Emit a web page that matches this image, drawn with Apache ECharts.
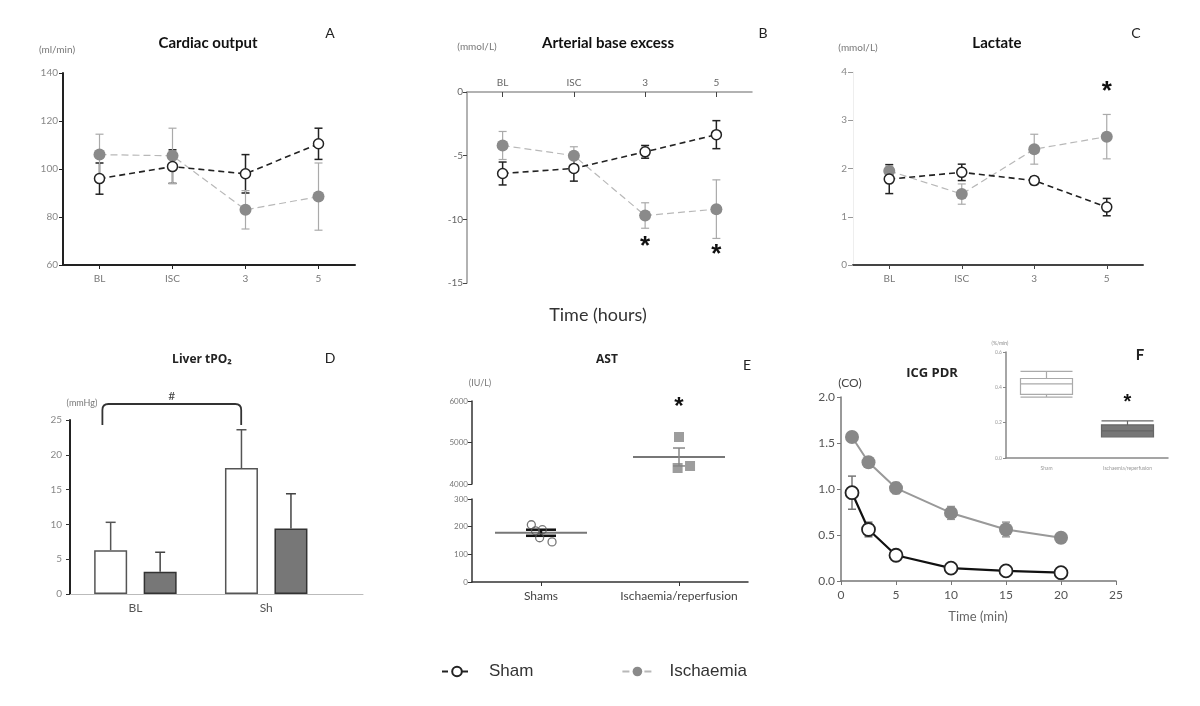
<!DOCTYPE html>
<html><head><meta charset="utf-8">
<script src="https://cdn.jsdelivr.net/npm/echarts@6/dist/echarts.min.js"></script>
<style>html,body{margin:0;padding:0;background:#fff}#c{width:1200px;height:706px}</style>
</head><body><div id="c"></div>
<script>
// ---------- DATA ----------
const timeCats = ['BL', 'ISC', '3', '5'];
const coSham = [96, 101, 98, 110.5];
const coShamErr = [6.5, 7, 8, 6.5];
const coIsch = [106, 105.5, 83, 88.5];
const coIschErr = [8.5, 11.5, 8, 14];
const beSham = [-6.4, -6.0, -4.7, -3.35];
const beShamErr = [0.9, 1.0, 0.5, 1.1];
const beIsch = [-4.2, -5.0, -9.7, -9.2];
const beIschErr = [1.1, 0.7, 1.0, 2.3];
const lacSham = [1.78, 1.92, 1.75, 1.2];
const lacShamErr = [0.3, 0.17, 0.08, 0.18];
const lacIsch = [1.95, 1.47, 2.4, 2.66];
const lacIschErr = [0.08, 0.21, 0.31, 0.46];
const tpoCats = ['BL', 'Sh'];
const tpoSham = [6.3, 18.1];
const tpoShamErr = [4.0, 5.5];
const tpoIsch = [3.2, 9.4];
const tpoIschErr = [2.8, 5.0];
const astCats = ['Shams', 'Ischaemia/reperfusion'];
const astSham = [207, 189, 160, 145, 185];
const astShamJitter = [-0.07, 0.01, -0.01, 0.08, -0.04];
const astShamMean = 178, astShamSem = 11;
const astIsch = [5133, 4386, 4434];
const astIschJitter = [0, -0.01, 0.08];
const astIschMean = 4651, astIschSem = 216;
const icgTime = [1, 2.5, 5, 10, 15, 20];
const icgSham = [0.96, 0.56, 0.28, 0.14, 0.11, 0.09];
const icgShamErr = [0.18, 0.08, 0.03, 0.02, 0.02, 0.02];
const icgIsch = [1.565, 1.29, 1.01, 0.74, 0.56, 0.47];
const icgIschErr = [0.05, 0.05, 0.06, 0.07, 0.08, 0.05];
const pdrCats = ['Sham', 'Ischaemia/reperfusion'];
const pdrSham = [0.345, 0.36, 0.42, 0.45, 0.49];
const pdrIsch = [0.12, 0.12, 0.153, 0.187, 0.21];

// ---------- HELPERS ----------
const FONT = 'Lato, "Open Sans", sans-serif';
const idx4 = timeCats.map((c, i) => i);

function errSeries(xi, yi, xs, ys, es, opt) {
  opt = opt || {};
  return {
    type: 'custom', xAxisIndex: xi, yAxisIndex: yi, z: 1, silent: true,
    data: ys.map((y, i) => [xs[i], y, es[i]]),
    renderItem(params, api) {
      const x = api.value(0), y = api.value(1), e = api.value(2);
      const cw = opt.cap == null ? 4 : opt.cap;
      const up = api.coord([x, y + e]);
      const dn = api.coord([x, opt.upOnly ? y : y - e]);
      const px = up[0] + (opt.dx || 0);
      const st = { stroke: opt.color || '#333', lineWidth: opt.width || 1.2 };
      const ch = [
        { type: 'line', shape: { x1: px, y1: up[1], x2: px, y2: dn[1] }, style: st },
        { type: 'line', shape: { x1: px - cw, y1: up[1], x2: px + cw, y2: up[1] }, style: st }
      ];
      if (!opt.upOnly) ch.push({ type: 'line', shape: { x1: px - cw, y1: dn[1], x2: px + cw, y2: dn[1] }, style: st });
      return { type: 'group', children: ch };
    }
  };
}
function textSeries(xi, yi, pts, txt, font) {
  return {
    type: 'custom', xAxisIndex: xi, yAxisIndex: yi, silent: true, z: 5, data: pts,
    renderItem(params, api) {
      const p = api.coord([api.value(0), api.value(1)]);
      return { type: 'text', x: p[0], y: p[1], style: { text: txt, align: 'center', verticalAlign: 'middle', fill: '#111', font: font || 'bold 26px "Liberation Sans"' } };
    }
  };
}
function shamLine(xi, yi, data, o) {
  o = o || {};
  return {
    type: 'line', name: 'Sham', xAxisIndex: xi, yAxisIndex: yi, data: data, z: 3,
    symbol: 'circle', symbolSize: o.size || 10,
    itemStyle: { color: '#fff', borderColor: o.color || '#222', borderWidth: o.bw || 1.5 },
    lineStyle: { color: o.color || '#222', width: o.lw || 1.6, type: o.type || [6, 4] }
  };
}
function ischLine(xi, yi, data, o) {
  o = o || {};
  return {
    type: 'line', name: 'Ischaemia', xAxisIndex: xi, yAxisIndex: yi, data: data, z: 2,
    symbol: 'circle', symbolSize: o.size || 12,
    itemStyle: { color: '#8a8a8a', borderColor: '#8a8a8a', borderWidth: 0 },
    lineStyle: { color: o.color || '#b8b8b8', width: o.lw || 1.2, type: o.type || [7, 4] }
  };
}
function meanSeries(xi, yi, x, mean, sem, o) {
  return {
    type: 'custom', xAxisIndex: xi, yAxisIndex: yi, silent: true, z: 2,
    data: [[x, mean, sem]],
    renderItem(params, api) {
      const m = api.coord([api.value(0), api.value(1)]);
      const u = api.coord([api.value(0), api.value(1) + api.value(2)]);
      const d = api.coord([api.value(0), api.value(1) - api.value(2)]);
      const ls = { stroke: '#777', lineWidth: 2 };
      const ss = { stroke: o.semColor, lineWidth: o.semWidth };
      return { type: 'group', children: [
        { type: 'line', shape: { x1: m[0] - 46, y1: m[1], x2: m[0] + 46, y2: m[1] }, style: ls },
        { type: 'line', shape: { x1: m[0], y1: u[1], x2: m[0], y2: d[1] }, style: ss },
        { type: 'line', shape: { x1: m[0] - o.cap, y1: u[1], x2: m[0] + o.cap, y2: u[1] }, style: ss },
        { type: 'line', shape: { x1: m[0] - o.cap, y1: d[1], x2: m[0] + o.cap, y2: d[1] }, style: ss }
      ] };
    }
  };
}
const lbl = (fs, color, margin) => ({ fontSize: fs, color: color, margin: margin, fontFamily: FONT });
const line = (color, width) => ({ show: true, onZero: false, lineStyle: { color: color, width: width } });
const tick = (color, len, inside) => ({ show: true, length: len, inside: !!inside, lineStyle: { color: color } });

function gtext(x, y, text, font, fill, align) {
  return { type: 'text', x: x, y: y, silent: true, style: { text: text, font: font, fill: fill || '#111', align: align || 'center', verticalAlign: 'middle' } };
}

// ---------- OPTION ----------
const option = {
  backgroundColor: '#fff',
  animation: false,
  grid: [
    { left: 63, top: 73, width: 292, height: 192 },   // A
    { left: 467, top: 92, width: 285, height: 191 },  // B
    { left: 853, top: 72, width: 290, height: 193 },  // C
    { left: 70, top: 420, width: 293, height: 174 },  // D
    { left: 472, top: 401, width: 276, height: 83 },  // E upper
    { left: 472, top: 499, width: 276, height: 83 },  // E lower
    { left: 841, top: 397, width: 275, height: 184 }, // F
    { left: 1006, top: 352, width: 162, height: 106 } // F inset
  ],
  xAxis: [
    { type: 'category', gridIndex: 0, data: timeCats, axisLine: line('#222', 2), axisTick: Object.assign(tick('#222', 4), { alignWithLabel: true }), axisLabel: lbl(10, '#777', 9) },
    { type: 'category', gridIndex: 1, position: 'top', data: timeCats, axisLine: line('#999', 1.5), axisTick: Object.assign(tick('#444', 5, true), { alignWithLabel: true }), axisLabel: lbl(10, '#666', 4) },
    { type: 'category', gridIndex: 2, data: timeCats, axisLine: line('#444', 2), axisTick: Object.assign(tick('#444', 4), { alignWithLabel: true }), axisLabel: lbl(10, '#777', 9) },
    { type: 'value', gridIndex: 3, min: 0, max: 2.24, interval: 0.5, splitLine: { show: false }, axisLine: line('#bbb', 1), axisTick: { show: false },
      axisLabel: Object.assign(lbl(12, '#555', 8), { showMaxLabel: false, formatter: v => { const i = v - 0.5; return (Number.isInteger(i) && tpoCats[i]) ? tpoCats[i] : ''; } }) },
    { type: 'value', gridIndex: 4, min: -0.5, max: 1.5, show: false },
    { type: 'category', gridIndex: 5, data: astCats, axisLine: line('#333', 1.5), axisTick: Object.assign(tick('#333', 4), { alignWithLabel: true, interval: 0 }), axisLabel: Object.assign(lbl(12, '#444', 8), { interval: 0 }) },
    { type: 'value', gridIndex: 5, min: -0.5, max: 1.5, show: false },
    { type: 'value', gridIndex: 6, min: 0, max: 25, interval: 5, splitLine: { show: false }, axisLine: line('#777', 1.5), axisTick: tick('#777', 4), axisLabel: lbl(12, '#555', 8) },
    { type: 'category', gridIndex: 7, data: pdrCats, axisLine: line('#888', 1.5), axisTick: { show: false }, axisLabel: Object.assign(lbl(5, '#999', 8), { interval: 0 }) }
  ],
  yAxis: [
    { type: 'value', gridIndex: 0, min: 60, max: 140, interval: 20, splitLine: { show: false }, axisLine: line('#222', 2), axisTick: tick('#222', 4), axisLabel: lbl(10, '#888', 5) },
    { type: 'value', gridIndex: 1, min: -15, max: 0, interval: 5, splitLine: { show: false }, axisLine: line('#999', 1.5), axisTick: tick('#444', 4), axisLabel: lbl(10, '#666', 4) },
    { type: 'value', gridIndex: 2, min: 0, max: 4, interval: 1, splitLine: { show: false }, axisLine: line('#eee', 1), axisTick: tick('#999', 5), axisLabel: lbl(10, '#888', 6) },
    { type: 'value', gridIndex: 3, min: 0, max: 25, interval: 5, splitLine: { show: false }, axisLine: line('#222', 2), axisTick: tick('#333', 4), axisLabel: lbl(10, '#888', 8) },
    { type: 'value', gridIndex: 4, min: 4000, max: 6000, interval: 1000, splitLine: { show: false }, axisLine: line('#333', 1.5), axisTick: tick('#333', 4), axisLabel: Object.assign(lbl(8, '#777', 4), { formatter: v => String(v) }) },
    { type: 'value', gridIndex: 5, min: 0, max: 300, interval: 100, splitLine: { show: false }, axisLine: line('#333', 1.5), axisTick: tick('#333', 4), axisLabel: Object.assign(lbl(8, '#777', 4), { formatter: v => String(v) }) },
    { type: 'value', gridIndex: 6, min: 0, max: 2, interval: 0.5, splitLine: { show: false }, axisLine: line('#777', 1.5), axisTick: tick('#777', 4), axisLabel: Object.assign(lbl(12, '#555', 6), { formatter: v => v.toFixed(1) }) },
    { type: 'value', gridIndex: 7, min: 0, max: 0.6, interval: 0.2, splitLine: { show: false }, axisLine: line('#888', 1.5), axisTick: tick('#888', 3), axisLabel: Object.assign(lbl(5, '#999', 4), { formatter: v => v.toFixed(1) }) }
  ],
  legend: {
    data: ['Sham', 'Ischaemia'], left: 436, top: 658, itemGap: 88, itemWidth: 30, itemHeight: 12,
    textStyle: { fontSize: 17, color: '#333', fontFamily: '"Liberation Sans", Arial, sans-serif', padding: [0, 0, 0, 12] }
  },
  series: [
    // A
    errSeries(0, 0, idx4, coSham, coShamErr, { color: '#222', width: 1.5 }),
    errSeries(0, 0, idx4, coIsch, coIschErr, { color: '#aaa' }),
    shamLine(0, 0, coSham),
    ischLine(0, 0, coIsch),
    // B
    errSeries(1, 1, idx4, beSham, beShamErr, { color: '#222', width: 1.5 }),
    errSeries(1, 1, idx4, beIsch, beIschErr, { color: '#aaa' }),
    shamLine(1, 1, beSham),
    ischLine(1, 1, beIsch),
    textSeries(1, 1, [[2, -12.17], [3, -12.8]], '*'),
    // C
    errSeries(2, 2, idx4, lacSham, lacShamErr, { color: '#222', width: 1.5 }),
    errSeries(2, 2, idx4, lacIsch, lacIschErr, { color: '#aaa' }),
    shamLine(2, 2, lacSham),
    ischLine(2, 2, lacIsch),
    textSeries(2, 2, [[3, 3.59]], '*'),
    // D
    { type: 'bar', name: 'Sham', xAxisIndex: 3, yAxisIndex: 3, data: tpoCats.map((c, i) => [i + 0.5, tpoSham[i]]), barWidth: 33, barGap: '50%', z: 2,
      itemStyle: { color: '#fff', borderColor: '#555', borderWidth: 1.5 } },
    { type: 'bar', name: 'Ischaemia', xAxisIndex: 3, yAxisIndex: 3, data: tpoCats.map((c, i) => [i + 0.5, tpoIsch[i]]), barWidth: 33, barGap: '50%', z: 2,
      itemStyle: { color: '#777', borderColor: '#333', borderWidth: 1.5 } },
    errSeries(3, 3, [0.5, 1.5], tpoSham, tpoShamErr, { upOnly: true, dx: -24.75, cap: 5, color: '#555', width: 1.5 }),
    errSeries(3, 3, [0.5, 1.5], tpoIsch, tpoIschErr, { upOnly: true, dx: 24.75, cap: 5, color: '#444', width: 1.5 }),
    { type: 'custom', xAxisIndex: 3, yAxisIndex: 3, silent: true, data: [[0.5, 1.5, 25]],
      renderItem(params, api) {
        const a = api.coord([api.value(0), api.value(2)]);
        const b = api.coord([api.value(1), api.value(2)]);
        const x1 = a[0] - 33, x2 = b[0] - 25, yt = a[1] - 16, ya = a[1] + 5, r = 6;
        return { type: 'group', children: [
          { type: 'path', shape: { pathData: `M${x1} ${ya} L${x1} ${yt + r} Q${x1} ${yt} ${x1 + r} ${yt} L${x2 - r} ${yt} Q${x2} ${yt} ${x2} ${yt + r} L${x2} ${ya}` },
            style: { stroke: '#333', lineWidth: 1.8, fill: null } },
          { type: 'text', x: (x1 + x2) / 2, y: yt - 8, style: { text: '#', font: '12px ' + FONT, fill: '#444', align: 'center', verticalAlign: 'middle' } }
        ] };
      } },
    // E
    meanSeries(6, 5, 0, astShamMean, astShamSem, { semColor: '#111', semWidth: 2.5, cap: 15 }),
    meanSeries(4, 4, 1, astIschMean, astIschSem, { semColor: '#888', semWidth: 1.5, cap: 6 }),
    { type: 'scatter', name: 'Sham', xAxisIndex: 6, yAxisIndex: 5, z: 3, symbol: 'circle', symbolSize: 8,
      data: astSham.map((v, i) => [0 + astShamJitter[i], v]), itemStyle: { color: 'rgba(255,255,255,0)', borderColor: '#555', borderWidth: 1.3 } },
    { type: 'scatter', name: 'Ischaemia', xAxisIndex: 4, yAxisIndex: 4, z: 3, symbol: 'rect', symbolSize: 10,
      data: astIsch.map((v, i) => [1 + astIschJitter[i], v]), itemStyle: { color: '#858585' } },
    textSeries(4, 4, [[1, 5855]], '*', 'bold 24px "Liberation Sans"'),
    // F
    errSeries(7, 6, icgTime, icgIsch, icgIschErr, { color: '#999', width: 1.5 }),
    errSeries(7, 6, icgTime, icgSham, icgShamErr, { color: '#777', width: 1.5 }),
    { type: 'line', name: 'Ischaemia', xAxisIndex: 7, yAxisIndex: 6, z: 2, data: icgTime.map((t, i) => [t, icgIsch[i]]),
      symbol: 'circle', symbolSize: 14, itemStyle: { color: '#888' }, lineStyle: { color: '#999', width: 2 } },
    { type: 'line', name: 'Sham', xAxisIndex: 7, yAxisIndex: 6, z: 3, data: icgTime.map((t, i) => [t, icgSham[i]]),
      symbol: 'circle', symbolSize: 13, itemStyle: { color: '#fff', borderColor: '#222', borderWidth: 1.8 }, lineStyle: { color: '#111', width: 2.2 } },
    { type: 'boxplot', xAxisIndex: 8, yAxisIndex: 7, boxWidth: [50, 52], silent: true,
      data: [
        { value: pdrSham, itemStyle: { color: '#fff', borderColor: '#aaa', borderWidth: 1.2 } },
        { value: pdrIsch, itemStyle: { color: '#777', borderColor: '#666', borderWidth: 1.2 } }
      ] },
    textSeries(8, 7, [[1, 0.317]], '*', 'bold 20px "Liberation Sans"')
  ],
  graphic: [
    // A
    gtext(208, 43, 'Cardiac output', 'bold 15px ' + FONT),
    gtext(57, 50, '(ml/min)', '10px ' + FONT, '#777'),
    gtext(330, 33, 'A', '14px ' + FONT, '#222'),
    // B
    gtext(608, 43, 'Arterial base excess', 'bold 15px ' + FONT),
    gtext(477, 47, '(mmol/L)', '10px ' + FONT, '#777'),
    gtext(763, 33, 'B', '14px ' + FONT, '#222'),
    gtext(598, 315, 'Time (hours)', '18px ' + FONT, '#333'),
    // C
    gtext(997, 43, 'Lactate', 'bold 15px ' + FONT),
    gtext(858, 48, '(mmol/L)', '10px ' + FONT, '#777'),
    gtext(1136, 33, 'C', '14px ' + FONT, '#222'),
    // D
    gtext(202, 360, 'Liver tPO₂', 'bold 12px "Open Sans", sans-serif', '#222'),
    gtext(82, 403, '(mmHg)', '9px ' + FONT, '#777'),
    gtext(330, 358, 'D', '14px ' + FONT, '#222'),
    // E
    gtext(607, 360, 'AST', 'bold 12px "Open Sans", sans-serif', '#222'),
    gtext(480, 383, '(IU/L)', '9px ' + FONT, '#777'),
    gtext(747, 365, 'E', '14px ' + FONT, '#222'),
    // F
    gtext(932, 373, 'ICG PDR', 'bold 13px "Open Sans", sans-serif', '#222'),
    gtext(850, 383, '(CO)', '12px ' + FONT, '#444'),
    gtext(1140, 355, 'F', 'bold 15px ' + FONT, '#222'),
    gtext(978, 617, 'Time (min)', '13px ' + FONT, '#666'),
    gtext(1000, 343, '(%/min)', '5px ' + FONT, '#888')
  ]
};

const chart = echarts.init(document.getElementById('c'), null, { renderer: 'canvas' });
chart.setOption(option);
</script>
</body></html>
